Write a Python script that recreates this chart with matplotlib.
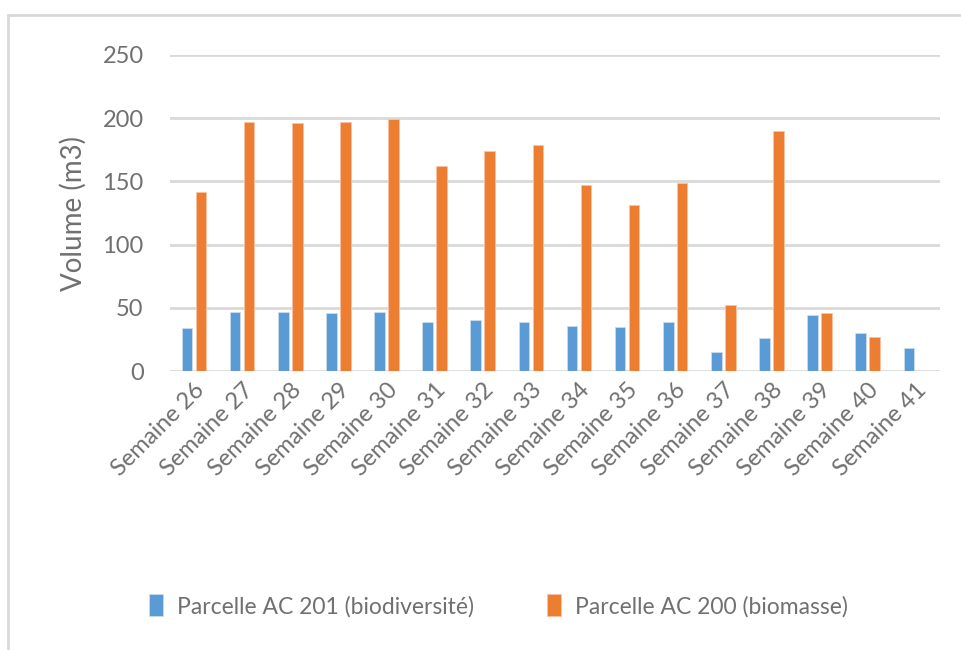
import numpy as np
import matplotlib.pyplot as plt
from matplotlib.patches import Rectangle

# Données
semaines = ['Semaine 26', 'Semaine 27', 'Semaine 28', 'Semaine 29', 'Semaine 30',
            'Semaine 31', 'Semaine 32', 'Semaine 33', 'Semaine 34', 'Semaine 35',
            'Semaine 36', 'Semaine 37', 'Semaine 38', 'Semaine 39', 'Semaine 40',
            'Semaine 41']
ac201 = [34, 47, 47, 46, 47, 39, 40, 39, 36, 35, 39, 15, 26, 44, 30, 18]
ac200 = [142, 197, 196, 197, 199, 162, 174, 179, 147, 131, 149, 52, 190, 46, 27, 0]

plt.rcParams['font.family'] = ['Lato', 'DejaVu Sans']
texte = '#707070'

fig = plt.figure(figsize=(9.62, 6.5), dpi=100)
ax = fig.add_axes([0.1767, 0.4292, 0.8003, 0.4862])

x = np.arange(len(semaines))
w = 0.22
ax.bar(x - 0.145, ac201, w, color='#5B9BD5', edgecolor='#c9dcf0', linewidth=0.6,
       label='Parcelle AC 201 (biodiversité)', zorder=3)
ax.bar(x + 0.145, ac200, w, color='#ED7D31', edgecolor='#f7c4a3', linewidth=0.6,
       label='Parcelle AC 200 (biomasse)', zorder=3)

ax.set_xlim(-0.5, len(semaines) - 0.5)
ax.set_ylim(0, 250)
ax.set_yticks([0, 50, 100, 150, 200, 250])
ax.yaxis.grid(True, color='#d9d9d9', linewidth=2, zorder=0)
for s in ax.spines.values():
    s.set_visible(False)
ax.tick_params(length=0, colors=texte, labelsize=17)
ax.tick_params(axis='y', pad=19)
ax.tick_params(axis='x', pad=6)
ax.set_xticks(x)
ax.set_xticklabels(semaines, rotation=45, ha='right', rotation_mode='anchor',
                   fontsize=17, color=texte)
ax.set_ylabel('Volume (m3)', fontsize=20, color=texte, labelpad=11)

leg = fig.legend(loc='center', bbox_to_anchor=(0.518, 0.068), ncol=2, frameon=False,
                 fontsize=16.5, handlelength=0.6, handleheight=1.1, columnspacing=3.2,
                 handletextpad=0.6)
for t in leg.get_texts():
    t.set_color(texte)

# cadre extérieur
fig.patches.append(Rectangle((8 / 962, -0.05), 1.1, 1 - 15 / 650 + 0.05,
                             transform=fig.transFigure, fill=False,
                             edgecolor='#d9d9d9', linewidth=2))

fig.savefig('out.png', dpi=100)
